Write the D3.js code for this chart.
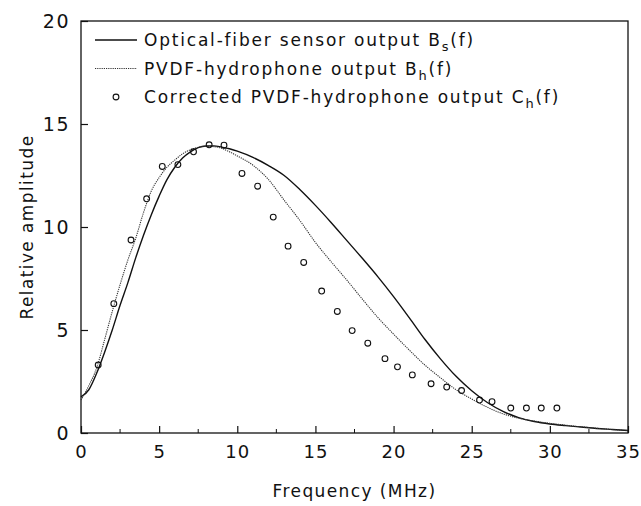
<!DOCTYPE html>
<html>
<head>
<meta charset="utf-8">
<script src="https://cdn.jsdelivr.net/npm/d3@7/dist/d3.min.js"></script>
<style>
  body { margin: 0; background: #fff; }
  text { font-family: "DejaVu Sans", sans-serif; fill: #111; }
</style>
</head>
<body>
<div id="chart"></div>
<script>
const width = 641;
const height = 506;
const margin = { top: 21, right: 13, bottom: 73, left: 81 };

// frequency grid (MHz) shared by both measured curves
const curveFreq = [0, 0.5, 1, 1.5, 2, 2.5, 3, 3.5, 4, 4.5, 5, 5.5, 6, 6.5, 7, 7.5, 8, 8.5, 9, 9.5, 10,
    11, 12, 13, 14, 15, 16, 17, 18, 19, 20, 21, 22, 23, 24, 25, 26, 27, 28, 29, 30, 31, 32, 33, 34, 35];

// Optical-fiber sensor output Bs(f)
const fiberAmp = [1.75, 2.1, 2.9, 3.9, 5.0, 6.2, 7.3, 8.5, 9.6, 10.6, 11.5, 12.3, 12.9, 13.35, 13.65, 13.85, 13.93, 13.94, 13.88, 13.8, 13.68,
    13.38, 12.98, 12.5, 11.82, 11.05, 10.22, 9.35, 8.48, 7.58, 6.62, 5.6, 4.55, 3.6, 2.75, 2.05, 1.48, 1.05, 0.75, 0.56, 0.44, 0.36, 0.29, 0.22, 0.17, 0.12];

// PVDF-hydrophone output Bh(f)
const pvdfAmp = [1.6, 2.3, 3.15, 4.5, 5.9, 7.2, 8.4, 9.45, 10.7, 11.75, 12.4, 12.9, 13.25, 13.55, 13.75, 13.87, 13.92, 13.9, 13.82, 13.65, 13.45,
    13.0, 12.3, 11.3, 10.32, 9.25, 8.32, 7.43, 6.5, 5.6, 4.8, 4.03, 3.3, 2.68, 2.1, 1.65, 1.25, 0.93, 0.72, 0.58, 0.47, 0.38, 0.3, 0.23, 0.17, 0.12];

// Corrected PVDF-hydrophone output Ch(f)
const corrFreq = [1.1, 2.1, 3.2, 4.2, 5.2, 6.2, 7.2, 8.2, 9.15, 10.3, 11.3, 12.3, 13.25, 14.25, 15.4, 16.4, 17.35, 18.35, 19.45, 20.25,
    21.2, 22.4, 23.4, 24.35, 25.5, 26.3, 27.5, 28.5, 29.45, 30.45];
const corrAmp = [3.3, 6.28, 9.37, 11.37, 12.94, 13.03, 13.65, 13.99, 13.97, 12.6, 11.98, 10.48, 9.07, 8.28, 6.89, 5.9, 4.97, 4.36, 3.61, 3.21,
    2.82, 2.39, 2.23, 2.06, 1.6, 1.52, 1.21, 1.21, 1.21, 1.21];

const xTicks = [0, 5, 10, 15, 20, 25, 30, 35];
const xMinorTicks = [2.5, 7.5, 12.5, 17.5, 22.5, 27.5, 32.5];
const yTicks = [0, 5, 10, 15, 20];

const svg = d3.select("#chart").append("svg").attr("width", width).attr("height", height);

const x = d3.scaleLinear().domain([0, 35]).range([margin.left, width - margin.right]);
const y = d3.scaleLinear().domain([0, 20]).range([height - margin.bottom, margin.top]);

// frame
svg.append("rect")
    .attr("x", x(0)).attr("y", y(20))
    .attr("width", x(35) - x(0)).attr("height", y(0) - y(20))
    .attr("fill", "none").attr("stroke", "#111").attr("stroke-width", 1.3);

// x axis, ticks pointing inward
const xAxis = d3.axisBottom(x).tickValues(xTicks).tickSize(-7).tickPadding(12).tickFormat(d3.format("d"));
const gx = svg.append("g").attr("transform", `translate(0,${y(0)})`).call(xAxis);
gx.select(".domain").remove();
gx.selectAll("text").attr("font-size", 18).attr("font-family", "DejaVu Sans, sans-serif")
    .attr("letter-spacing", 1).attr("fill", "#111");
gx.selectAll("line").attr("stroke", "#111").attr("stroke-width", 1.2);

svg.append("g").selectAll("line").data(xMinorTicks).join("line")
    .attr("x1", (d) => x(d)).attr("x2", (d) => x(d))
    .attr("y1", y(0)).attr("y2", y(0) - 4)
    .attr("stroke", "#111").attr("stroke-width", 1);

// y axis, ticks pointing inward
const yAxis = d3.axisLeft(y).tickValues(yTicks).tickSize(-7).tickPadding(11).tickFormat(d3.format("d"));
const gy = svg.append("g").attr("transform", `translate(${x(0)},0)`).call(yAxis);
gy.select(".domain").remove();
gy.selectAll("text").attr("font-size", 19).attr("font-family", "DejaVu Sans, sans-serif")
    .attr("letter-spacing", 1.5).attr("fill", "#111");
gy.selectAll("line").attr("stroke", "#111").attr("stroke-width", 1.2);

// axis titles
svg.append("text")
    .attr("x", (x(0) + x(35)) / 2).attr("y", 497)
    .attr("text-anchor", "middle").attr("font-size", 17).attr("letter-spacing", 1.4)
    .text("Frequency (MHz)");

svg.append("text")
    .attr("transform", `translate(33,${(y(0) + y(20)) / 2}) rotate(-90)`)
    .attr("text-anchor", "middle").attr("font-size", 17).attr("letter-spacing", 1.4)
    .text("Relative amplitude");

// curves
const line = d3.line()
    .x((d) => x(d[0]))
    .y((d) => y(d[1]))
    .curve(d3.curveMonotoneX);

svg.append("path")
    .datum(curveFreq.map((f, i) => [f, fiberAmp[i]]))
    .attr("d", line)
    .attr("fill", "none").attr("stroke", "#111").attr("stroke-width", 1.4);

svg.append("path")
    .datum(curveFreq.map((f, i) => [f, pvdfAmp[i]]))
    .attr("d", line)
    .attr("fill", "none").attr("stroke", "#333").attr("stroke-width", 1.1)
    .attr("stroke-dasharray", "1.2,1");

// corrected points
svg.append("g").selectAll("circle")
    .data(corrFreq.map((f, i) => [f, corrAmp[i]]))
    .join("circle")
    .attr("cx", (d) => x(d[0]))
    .attr("cy", (d) => y(d[1]))
    .attr("r", 2.9)
    .attr("fill", "none").attr("stroke", "#111").attr("stroke-width", 1.1);

// legend
const legend = svg.append("g");
const legendRows = [
    { type: "solid", label: "Optical-fiber sensor output B", sub: "s" },
    { type: "dotted", label: "PVDF-hydrophone output B", sub: "h" },
    { type: "circle", label: "Corrected PVDF-hydrophone output C", sub: "h" }
];
legendRows.forEach((row, i) => {
    const ly = 40 + i * 28.5;
    if (row.type === "solid") {
        legend.append("line").attr("x1", 95).attr("x2", 137).attr("y1", ly).attr("y2", ly)
            .attr("stroke", "#111").attr("stroke-width", 1.4);
    } else if (row.type === "dotted") {
        legend.append("line").attr("x1", 95).attr("x2", 137).attr("y1", ly).attr("y2", ly)
            .attr("stroke", "#333").attr("stroke-width", 1.1).attr("stroke-dasharray", "1.2,1");
    } else {
        legend.append("circle").attr("cx", 116).attr("cy", ly).attr("r", 2.9)
            .attr("fill", "none").attr("stroke", "#111").attr("stroke-width", 1.1);
    }
    const t = legend.append("text").attr("x", 144).attr("y", ly + 6)
        .attr("font-size", 17).attr("letter-spacing", 1.8);
    t.append("tspan").text(row.label);
    t.append("tspan").attr("dy", 5).attr("font-size", 13).text(row.sub);
    t.append("tspan").attr("dy", -5).text("(f)");
});
</script>
</body>
</html>
